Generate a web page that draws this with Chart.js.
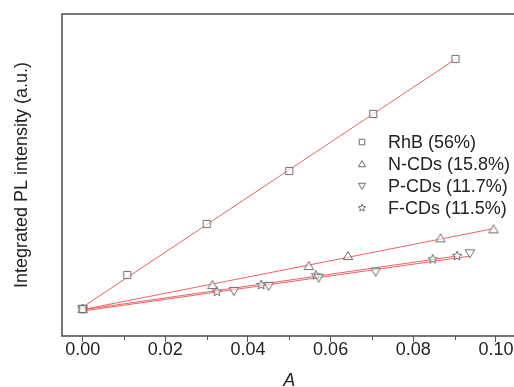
<!DOCTYPE html>
<html><head><meta charset="utf-8">
<script src="https://cdn.jsdelivr.net/npm/chart.js@4.4.1/dist/chart.umd.min.js"></script>
<style>
html,body{margin:0;padding:0;background:#fff;overflow:hidden}
#wrap{width:514px;height:387px;overflow:hidden;position:relative;background:#fff}
canvas{display:block}
</style></head>
<body><div id="wrap"><canvas id="c" width="540" height="392" style="width:540px;height:392px"></canvas></div>
<script>
// ---- data ----
const seriesNames = ['RhB (56%)', 'N-CDs (15.8%)', 'P-CDs (11.7%)', 'F-CDs (11.5%)'];
const rhbX  = [0, 0.0108, 0.0300, 0.0500, 0.0703, 0.0902];
const rhbY  = [2.7, 6.1, 11.2, 16.5, 22.2, 27.7];
const nX    = [0, 0.0314, 0.0547, 0.0642, 0.0866, 0.0994];
const nY    = [2.7, 5.1, 7.0, 8.0, 9.77, 10.67];
const pX    = [0, 0.0366, 0.0450, 0.0571, 0.0709, 0.0937];
const pY    = [2.7, 4.5, 5.0, 5.83, 6.43, 8.27];
const fX    = [0, 0.0325, 0.0432, 0.0564, 0.0847, 0.0906];
const fY    = [2.7, 4.43, 5.1, 6.07, 7.67, 8.0];
const xTicks = [0, 0.02, 0.04, 0.06, 0.08, 0.10];
const xMinorTicks = [0.01, 0.03, 0.05, 0.07, 0.09];

// ---- styling ----
const MARK = '#6e6e6e';
const FIT = 'rgba(236,70,70,0.85)';
const FRAME = '#555';
const FONT = '"Liberation Sans", Arial, sans-serif';

function makeMarker(style, r) {
  const s = Math.ceil(r * 2 + 4);
  const c = document.createElement('canvas');
  c.width = s; c.height = s;
  const g = c.getContext('2d');
  const cx = s / 2, cy = s / 2;
  g.strokeStyle = MARK; g.lineWidth = 1; g.fillStyle = 'rgba(255,255,255,0.6)';
  g.beginPath();
  if (style === 'rect') {
    const h = r * 0.72;
    g.rect(cx - h, cy - h, 2 * h, 2 * h);
  } else if (style === 'tri' || style === 'tridown') {
    const sgn = style === 'tri' ? 1 : -1;
    const off = sgn * r * 0.1;
    g.moveTo(cx, cy - sgn * r + off);
    g.lineTo(cx + r * 0.95, cy + sgn * r * 0.62 + off);
    g.lineTo(cx - r * 0.95, cy + sgn * r * 0.62 + off);
    g.closePath();
  } else if (style === 'star') {
    const ro = r, ri = r * 0.45;
    for (let i = 0; i < 10; i++) {
      const a = -Math.PI / 2 + i * Math.PI / 5;
      const rr = i % 2 === 0 ? ro : ri;
      const px = cx + rr * Math.cos(a), py = cy + rr * Math.sin(a);
      if (i === 0) g.moveTo(px, py); else g.lineTo(px, py);
    }
    g.closePath();
  }
  g.fill();
  g.stroke();
  return c;
}
const styles = ['rect', 'tri', 'tridown', 'star'];
const markers = styles.map(s => makeMarker(s, 5));
const legendMarkers = styles.map(s => makeMarker(s, 3.8));

const xs = [rhbX, nX, pX, fX];
const ys = [rhbY, nY, pY, fY];

function fitLine(X, Y) {
  const n = X.length;
  const mx = X.reduce((a, b) => a + b, 0) / n;
  const my = Y.reduce((a, b) => a + b, 0) / n;
  let sxy = 0, sxx = 0;
  for (let i = 0; i < n; i++) { sxy += (X[i] - mx) * (Y[i] - my); sxx += (X[i] - mx) ** 2; }
  const b = sxy / sxx, a = my - b * mx;
  const x0 = Math.min(...X), x1 = Math.max(...X);
  return [{x: x0, y: a + b * x0}, {x: x1, y: a + b * x1}];
}

const datasets = [];
for (let i = 0; i < 4; i++) {
  datasets.push({
    label: seriesNames[i] + ' fit',
    data: fitLine(xs[i], ys[i]),
    showLine: true, borderColor: FIT, borderWidth: 1, pointRadius: 0,
    order: 2, fill: false
  });
}
for (let i = 0; i < 4; i++) {
  datasets.push({
    label: seriesNames[i],
    data: xs[i].map((x, j) => ({x, y: ys[i][j]})),
    showLine: false, pointStyle: markers[i], pointRadius: 5,
    order: 1
  });
}

const framePlugin = {
  id: 'frame',
  afterDraw(chart) {
    const {ctx, chartArea: ca, scales} = chart;
    ctx.save();
    ctx.strokeStyle = FRAME; ctx.lineWidth = 1.6;
    ctx.strokeRect(ca.left, ca.top, ca.right - ca.left, ca.bottom - ca.top);
    // minor ticks
    ctx.lineWidth = 1; ctx.strokeStyle = FRAME;
    for (const v of xMinorTicks) {
      const px = Math.round(scales.x.getPixelForValue(v)) + 0.5;
      ctx.beginPath(); ctx.moveTo(px, ca.bottom); ctx.lineTo(px, ca.bottom + 4); ctx.stroke();
    }
    // legend
    const lx = 362, tx = 388, ly = [142, 164, 186, 208];
    ctx.font = '18px ' + FONT;
    ctx.fillStyle = '#222'; ctx.textBaseline = 'middle'; ctx.textAlign = 'left';
    for (let i = 0; i < 4; i++) {
      const m = legendMarkers[i];
      ctx.drawImage(m, lx - m.width / 2, ly[i] - m.height / 2);
      ctx.fillText(seriesNames[i], tx, ly[i] + 1);
    }
    ctx.restore();
  }
};

new Chart(document.getElementById('c'), {
  type: 'scatter',
  data: {datasets},
  options: {
    responsive: false,
    animation: false,
    layout: {padding: {top: 14, right: 23.4, left: 0, bottom: 0}},
    plugins: {legend: {display: false}, tooltip: {enabled: false}},
    scales: {
      x: {
        type: 'linear', min: -0.005, max: 0.105,
        afterBuildTicks: s => { s.ticks = xTicks.map(v => ({value: v})); },
        afterFit: s => { s.height = 56; },
        grid: {drawOnChartArea: false, drawTicks: true, tickLength: 6, tickColor: FRAME, tickWidth: 1},
        border: {display: false},
        ticks: {color: '#222', font: {family: FONT, size: 18}, padding: -3,
                callback: v => Number(v).toFixed(2), maxRotation: 0, autoSkip: false},
        title: {display: true, text: 'A', color: '#222',
                font: {family: FONT, size: 18, style: 'italic'}, padding: 0}
      },
      y: {
        type: 'linear', min: 0, max: 32.2,
        afterFit: s => { s.width = 62; },
        grid: {display: false},
        border: {display: false},
        ticks: {display: false},
        title: {display: true, text: 'Integrated PL intensity (a.u.)', color: '#222',
                font: {family: FONT, size: 18}, padding: {top: 11, bottom: 0}}
      }
    }
  },
  plugins: [framePlugin]
});
</script>
</body></html>
